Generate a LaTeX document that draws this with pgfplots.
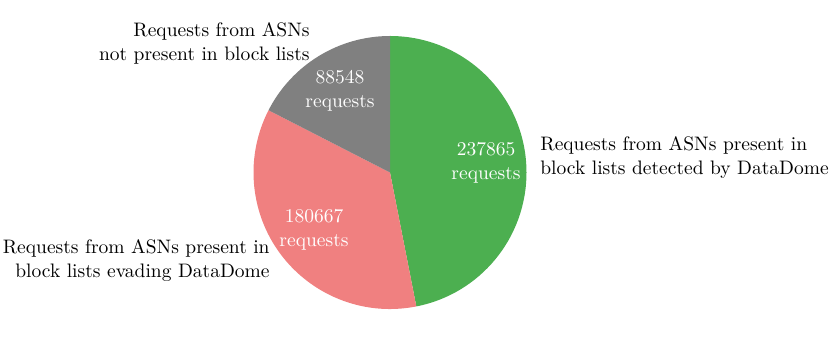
\documentclass[border=0pt]{standalone}
\usepackage{pgfplots}
\pgfplotsset{compat=1.18}
\usetikzlibrary{calc}

\definecolor{detected}{RGB}{76,175,80}
\definecolor{evading}{RGB}{240,128,128}
\definecolor{notlisted}{RGB}{128,128,128}

% request counts
\def\vDetected{237865}
\def\vEvading{180667}
\def\vNotListed{88548}

\edef\aStart{90}
\edef\aA{\fpeval{90-360*\vDetected/(\vDetected+\vEvading+\vNotListed)}}
\edef\aB{\fpeval{\aA-360*\vEvading/(\vDetected+\vEvading+\vNotListed)}}
\edef\aC{\fpeval{\aB-360*\vNotListed/(\vDetected+\vEvading+\vNotListed)}}

\begin{document}
\begin{tikzpicture}[every node/.style={font=\fontsize{9.75pt}{12pt}\selectfont}]
\begin{axis}[width=415.5pt,height=173.5pt,scale only axis,
  xmin=0,xmax=831,ymin=0,ymax=347,hide axis,clip=false]
\coordinate (ll) at (axis cs:0,0);
\coordinate (ur) at (axis cs:831,347);
\coordinate (c) at (axis cs:390,174.5);
\path let \p1=($(axis cs:136.5,0)-(axis cs:0,0)$) in
  \pgfextra{\xdef\R{\x1}};
\fill[detected] (c) -- ++(\aStart:\R) arc[start angle=\aStart,end angle=\aA,radius=\R] -- cycle;
\fill[evading] (c) -- ++(\aA:\R) arc[start angle=\aA,end angle=\aB,radius=\R] -- cycle;
\fill[notlisted] (c) -- ++(\aB:\R) arc[start angle=\aB,end angle=\aC,radius=\R] -- cycle;

\node[white,align=center] at (axis cs:486,184) {\vDetected\\requests};
\node[white,align=center] at (axis cs:314,117) {\vEvading\\requests};
\node[white,align=center] at (axis cs:340,256) {\vNotListed\\requests};

\node[anchor=west,align=left,inner sep=0pt] at (axis cs:540,189)
  {Requests from ASNs present in\\block lists detected by DataDome};
\node[anchor=east,align=right,inner sep=0pt] at (axis cs:270,86)
  {Requests from ASNs present in\\block lists evading DataDome};
\node[anchor=east,align=right,inner sep=0pt] at (axis cs:310,303.5)
  {Requests from ASNs\\not present in block lists};
\end{axis}
\pgfresetboundingbox
\path (ll) rectangle (ur);
\end{tikzpicture}
\end{document}
